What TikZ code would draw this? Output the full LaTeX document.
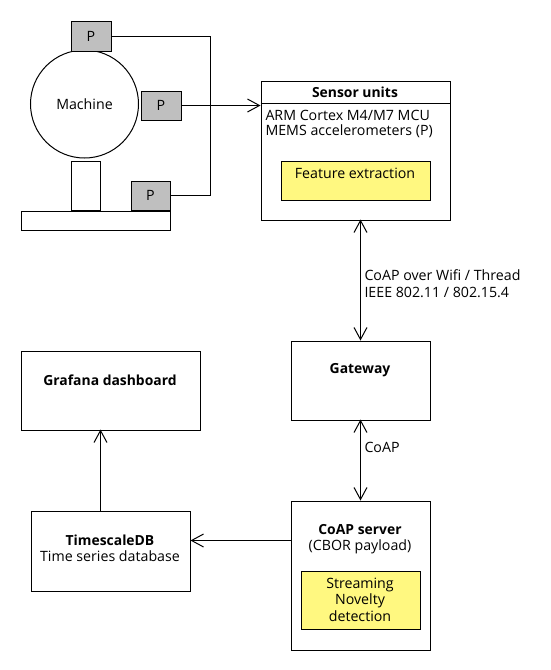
\documentclass[tikz,border=0pt]{standalone}
\usepackage{fontspec}
\setmainfont{Open Sans}
\usetikzlibrary{arrows.meta}
\begin{document}
\begin{tikzpicture}[x=1pt,y=-1pt,line width=1pt,
  >={Straight Barb[length=12pt,width=13pt]},
  box/.style={draw,rectangle,inner sep=0pt,anchor=north west,fill=white},
  pbox/.style={box,fill=gray!50},
  ybox/.style={box,fill=yellow!50},
  txt/.style={inner sep=0pt,font=\fontsize{14.2}{16}\selectfont},
  btxt/.style={txt,font=\fontsize{13.9}{16}\selectfont\bfseries},
  ltxt/.style={txt,anchor=west}]
\useasboundingbox (0,0) rectangle (550,670);
% machine
\node[draw,circle,minimum size=108pt,inner sep=0pt] (mach) at (84.5,104) {};
\node[txt] (machlbl) at (84.5,104) {Machine};
\node[box,minimum width=29pt,minimum height=49pt] (ped) at (70.5,160.5) {};
\node[box,minimum width=149pt,minimum height=19pt] (base) at (20.5,210.5) {};
\node[pbox,minimum width=40pt,minimum height=30pt] (p1) at (70.5,20.5) {};
\node[txt] at (p1.center) {P};
\node[pbox,minimum width=40pt,minimum height=29pt] (p2) at (140.5,90.5) {};
\node[txt] at (p2.center) {P};
\node[pbox,minimum width=39pt,minimum height=29pt] (p3) at (130.5,180.5) {};
\node[txt] at (p3.center) {P};
% sensor units
\node[box,minimum width=189pt,minimum height=139pt] (sens) at (260.5,80.5) {};
\draw (sens.north west) ++(0,23) coordinate (hl) -- (hl -| sens.east);
\node[btxt] (senst) at (355,92) {Sensor units};
\node[ltxt] (s1) at (265,115) {ARM Cortex M4/M7 MCU};
\node[ltxt] (s2) at (265,131) {MEMS accelerometers (P)};
\node[ybox,minimum width=149pt,minimum height=39pt] (fe) at (280.5,160.5) {};
\node[txt] (fet) at (355,173) {Feature extraction};
% connectors from P boxes
\coordinate (j) at (210.5,110.5);
\draw (p1.east) -| (j);
\draw (p3.east) -| (j);
\draw[->] (p2.east) -- (p2.east -| sens.west);
% gateway
\node[box,minimum width=139pt,minimum height=79pt] (gw) at (290.5,340.5) {};
\node[btxt] (gwt) at (360,370) {Gateway};
\draw[<->] (360.5,219.5) coordinate (a1) -- (360.5,340.5) coordinate (a2);
\node[ltxt] (l1) at (364,275) {CoAP over Wifi / Thread};
\node[ltxt] (l2) at (364,292) {IEEE 802.11 / 802.15.4};
% coap server
\node[box,minimum width=139pt,minimum height=149pt] (cs) at (290.5,500.5) {};
\node[btxt] (cst) at (360,530) {CoAP server};
\node[txt] (cst2) at (360,547) {(CBOR payload)};
\node[ybox,minimum width=119pt,minimum height=58pt] (nd) at (300.5,570.5) {};
\node[txt,align=center,font=\fontsize{14.2}{16.5}\selectfont] (ndt) at (360,599.5) {Streaming\\Novelty\\detection};
\draw[<->] (360.5,419.5) -- (360.5,500.5);
\node[ltxt] (l3) at (364,447) {CoAP};
% timescale
\node[box,minimum width=159pt,minimum height=80pt] (ts) at (30.5,510.5) {};
\node[btxt] (tst) at (110,540) {TimescaleDB};
\node[txt] (tst2) at (110,556) {Time series database};
\draw[->] (290.5,540.5) -- (190.5,540.5);
% grafana
\node[box,minimum width=179pt,minimum height=79pt] (gf) at (20.5,350.5) {};
\node[btxt] (gft) at (110,380) {Grafana dashboard};
\draw[->] (100.5,510.5) -- (100.5,429.5);
\end{tikzpicture}
\end{document}
